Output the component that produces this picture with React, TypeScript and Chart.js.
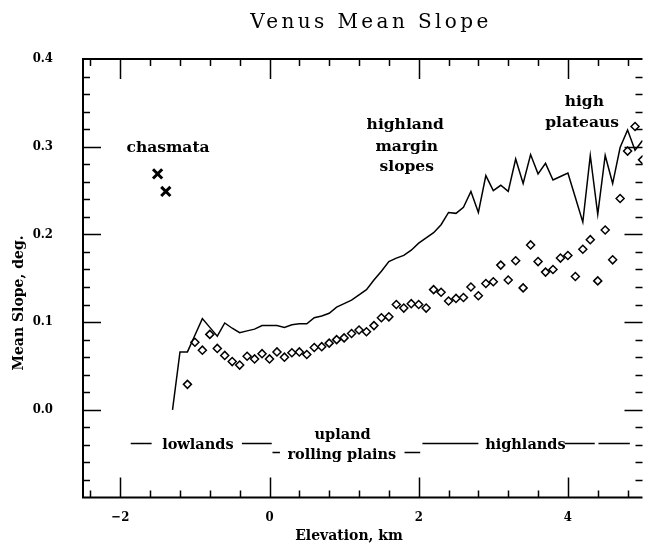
import { useEffect, useRef } from 'react';
import { Chart, registerables } from 'chart.js';

Chart.register(...registerables);

// Elevation bins (km) shared by the solid curve and the diamond series
const elevationKm = [
  -1.3, -1.2, -1.1, -1.0, -0.9, -0.8, -0.7, -0.6, -0.5, -0.4, -0.3, -0.2, -0.1,
  0.0, 0.1, 0.2, 0.3, 0.4, 0.5, 0.6, 0.7, 0.8, 0.9, 1.0, 1.1, 1.2, 1.3, 1.4,
  1.5, 1.6, 1.7, 1.8, 1.9, 2.0, 2.1, 2.2, 2.3, 2.4, 2.5, 2.6, 2.7, 2.8, 2.9,
  3.0, 3.1, 3.2, 3.3, 3.4, 3.5, 3.6, 3.7, 3.8, 3.9, 4.0, 4.1, 4.2, 4.3, 4.4,
  4.5, 4.6, 4.7, 4.8, 4.9, 5.0,
];

// Solid curve: mean slope per elevation bin (deg.)
const meanSlopeCurve = [
  0.000, 0.066, 0.066, 0.085, 0.104, 0.094, 0.084, 0.099, 0.093, 0.088, 0.090,
  0.092, 0.096, 0.096, 0.096, 0.094, 0.097, 0.098, 0.098, 0.105, 0.107, 0.110,
  0.117, 0.121, 0.125, 0.131, 0.137, 0.148, 0.158, 0.169, 0.173, 0.176, 0.182,
  0.190, 0.196, 0.202, 0.211, 0.225, 0.224, 0.231, 0.249, 0.225, 0.267, 0.250,
  0.256, 0.249, 0.286, 0.258, 0.291, 0.269, 0.281, 0.262, 0.266, 0.270, 0.242,
  0.214, 0.290, 0.223, 0.290, 0.258, 0.299, 0.319, 0.296, 0.307,
];

// Diamonds start two bins later (-1.1 km)
const diamondElevationKm = elevationKm.slice(2);
const meanSlopeDiamonds = [
  0.029, 0.077, 0.068, 0.086, 0.070, 0.062, 0.055, 0.051, 0.061, 0.058, 0.064,
  0.058, 0.066, 0.060, 0.065, 0.066, 0.063, 0.071, 0.072, 0.076, 0.080, 0.082,
  0.087, 0.091, 0.089, 0.096, 0.105, 0.106, 0.120, 0.116, 0.121, 0.120, 0.116,
  0.137, 0.134, 0.124, 0.127, 0.128, 0.140, 0.130, 0.144, 0.146, 0.165, 0.148,
  0.170, 0.139, 0.188, 0.169, 0.157, 0.160, 0.173, 0.176, 0.152, 0.183, 0.194,
  0.147, 0.205, 0.171, 0.241, 0.295, 0.323, 0.285,
];

// Chasmata points
const chasmataElevationKm = [-1.5, -1.39];
const chasmataSlope = [0.269, 0.249];

// Axis ticks
const xTickValues = [-2, 0, 2, 4];
const yTickValues = [0.0, 0.1, 0.2, 0.3, 0.4];

const SERIF = "'DejaVu Serif', serif";
const TICK_SERIF = "'DejaVu Serif Condensed', 'DejaVu Serif', serif";

// Text notes inside the plot, in data units (elevation km, slope deg.)
const plotNotes = [
  { text: 'chasmata', x: -1.36, y: 0.2985 },
  { text: 'highland', x: 1.82, y: 0.325 },
  { text: 'margin', x: 1.84, y: 0.300 },
  { text: 'slopes', x: 1.84, y: 0.277 },
  { text: 'high', x: 4.22, y: 0.351 },
  { text: 'plateaus', x: 4.19, y: 0.327 },
];

// Terrain class labels along the bottom
const classNotes = [
  { text: 'lowlands', x: -0.96, y: -0.040 },
  { text: 'upland', x: 0.98, y: -0.029 },
  { text: 'rolling plains', x: 0.97, y: -0.052 },
  { text: 'highlands', x: 3.43, y: -0.040 },
];

// Range bars marking the terrain classes
const rangeSegments = [
  { from: -1.86, to: -1.58, y: -0.038 },
  { from: -0.37, to: 0.03, y: -0.038 },
  { from: 0.04, to: 0.14, y: -0.0485 },
  { from: 1.81, to: 2.02, y: -0.0485 },
  { from: 2.05, to: 2.80, y: -0.038 },
  { from: 3.96, to: 4.36, y: -0.038 },
  { from: 4.41, to: 4.83, y: -0.038 },
];

function tickRange(from: number, to: number, step: number) {
  const out: number[] = [];
  const n = Math.round((to - from) / step);
  for (let k = 0; k <= n; k++) out.push(+(from + k * step).toFixed(4));
  return out;
}

const xMinorTicks = tickRange(-2.4, 4.8, 0.4).filter((v) => Math.abs(v / 2 - Math.round(v / 2)) > 1e-6);
const yMajorTicks = [0.0, 0.1, 0.2, 0.3];
const yMinorTicks = tickRange(-0.08, 0.38, 0.02).filter((v) => Math.abs(v * 10 - Math.round(v * 10)) > 1e-6);

const frameAndTicks = {
  id: 'frameAndTicks',
  afterDatasetsDraw(chart: any) {
    const { ctx, chartArea: a } = chart;
    const xs = chart.scales.x;
    const ys = chart.scales.y;
    ctx.save();
    ctx.strokeStyle = '#000';
    ctx.lineWidth = 2;
    ctx.beginPath();
    ctx.moveTo(a.right, a.top);
    ctx.lineTo(a.left, a.top);
    ctx.lineTo(a.left, a.bottom);
    ctx.lineTo(a.right, a.bottom);
    ctx.stroke();

    ctx.lineWidth = 1.5;
    ctx.beginPath();
    const xt = (v: number, len: number) => {
      const p = Math.round(xs.getPixelForValue(v)) + 0.5;
      ctx.moveTo(p, a.bottom);
      ctx.lineTo(p, a.bottom - len);
      ctx.moveTo(p, a.top);
      ctx.lineTo(p, a.top + len);
    };
    const yt = (v: number, len: number) => {
      const p = Math.round(ys.getPixelForValue(v)) + 0.5;
      ctx.moveTo(a.left, p);
      ctx.lineTo(a.left + len, p);
      ctx.moveTo(a.right, p);
      ctx.lineTo(a.right - len, p);
    };
    xTickValues.forEach((v) => xt(v, 20));
    xMinorTicks.forEach((v) => xt(v, 7));
    yMajorTicks.forEach((v) => yt(v, 18));
    yMinorTicks.forEach((v) => yt(v, 7));
    ctx.stroke();
    ctx.restore();
  },
};

const notesAndTitles = {
  id: 'notesAndTitles',
  afterDraw(chart: any) {
    const { ctx } = chart;
    const xs = chart.scales.x;
    const ys = chart.scales.y;
    ctx.save();
    ctx.fillStyle = '#000';
    ctx.strokeStyle = '#000';

    // range bars
    ctx.lineWidth = 1.5;
    ctx.beginPath();
    rangeSegments.forEach((s) => {
      const py = Math.round(ys.getPixelForValue(s.y)) + 0.5;
      ctx.moveTo(xs.getPixelForValue(s.from), py);
      ctx.lineTo(xs.getPixelForValue(s.to), py);
    });
    ctx.stroke();

    ctx.textAlign = 'center';
    ctx.textBaseline = 'middle';
    ctx.font = `bold 15.5px ${SERIF}`;
    plotNotes.forEach((n) => {
      ctx.fillText(n.text, xs.getPixelForValue(n.x), ys.getPixelForValue(n.y));
    });
    ctx.font = `bold 14.5px ${SERIF}`;
    classNotes.forEach((n) => {
      ctx.fillText(n.text, xs.getPixelForValue(n.x), ys.getPixelForValue(n.y));
    });

    // chart title
    ctx.font = `20px ${SERIF}`;
    (ctx as any).letterSpacing = '3.4px';
    ctx.fillText('Venus Mean Slope', 371, 23);
    (ctx as any).letterSpacing = '0px';

    // axis titles
    ctx.font = `bold 14px ${SERIF}`;
    ctx.fillText('Elevation, km', 349, 536);
    ctx.translate(19, 303);
    ctx.rotate(-Math.PI / 2);
    ctx.fillText('Mean Slope, deg.', 0, 0);
    ctx.restore();
  },
};

export default function App() {
  const canvasRef = useRef<HTMLCanvasElement | null>(null);

  useEffect(() => {
    const canvas = canvasRef.current;
    if (!canvas) return;
    const tickFont = { family: TICK_SERIF, weight: 'bold' as const, size: 13 };

    const chart = new Chart(canvas, {
      type: 'scatter',
      data: {
        datasets: [
          {
            label: 'mean slope',
            data: elevationKm.map((x, i) => ({ x, y: meanSlopeCurve[i] })),
            showLine: true,
            borderColor: '#000',
            borderWidth: 1.5,
            pointRadius: 0,
            tension: 0,
          },
          {
            label: 'mean slope (diamonds)',
            data: diamondElevationKm.map((x, i) => ({ x, y: meanSlopeDiamonds[i] })),
            showLine: false,
            pointStyle: 'rectRot',
            pointRadius: 4,
            pointBorderWidth: 1.5,
            pointBorderColor: '#000',
            pointBackgroundColor: 'rgba(0,0,0,0)',
          },
          {
            label: 'chasmata',
            data: chasmataElevationKm.map((x, i) => ({ x, y: chasmataSlope[i] })),
            showLine: false,
            pointStyle: 'crossRot',
            pointRadius: 6.5,
            pointBorderWidth: 3,
            pointBorderColor: '#000',
          },
        ],
      },
      options: {
        animation: false,
        responsive: false,
        devicePixelRatio: 1,
        events: [],
        layout: { padding: { top: 59, right: 0, left: 0, bottom: 0 } },
        plugins: {
          legend: { display: false },
          tooltip: { enabled: false },
          title: { display: false },
        },
        scales: {
          x: {
            type: 'linear',
            min: -2.5,
            max: 5.0,
            grid: { display: false, drawTicks: false },
            border: { display: false },
            afterBuildTicks: (scale: any) => {
              scale.ticks = xTickValues.map((value) => ({ value }));
            },
            afterFit: (scale: any) => {
              scale.height = 45.5;
            },
            ticks: {
              color: '#000',
              font: tickFont,
              padding: 12,
              maxRotation: 0,
              callback: (v: any) => (v < 0 ? '\u2212' + Math.abs(v) : String(v)),
            },
          },
          y: {
            type: 'linear',
            min: -0.1,
            max: 0.4,
            grid: { display: false, drawTicks: false },
            border: { display: false },
            afterBuildTicks: (scale: any) => {
              scale.ticks = yTickValues.map((value) => ({ value }));
            },
            afterFit: (scale: any) => {
              scale.width = 83;
            },
            ticks: {
              color: '#000',
              font: tickFont,
              padding: 30,
              callback: (v: any) => Number(v).toFixed(1),
            },
          },
        },
      },
      plugins: [frameAndTicks, notesAndTitles],
    } as any);

    return () => chart.destroy();
  }, []);

  return (
    <div style={{ position: 'fixed', left: 0, top: 0, width: 652, height: 543, background: '#fff' }}>
      <canvas ref={canvasRef} width={652} height={543} style={{ display: 'block' }} />
    </div>
  );
}
